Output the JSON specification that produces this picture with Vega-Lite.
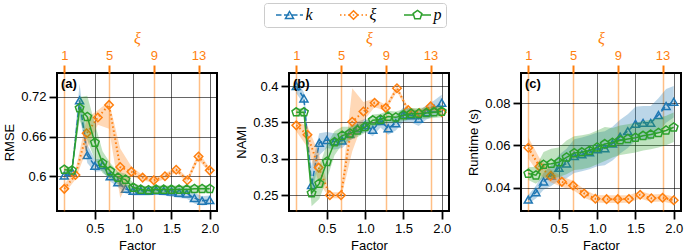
{
  "$schema": "https://vega.github.io/schema/vega-lite/v6.json",
  "padding": {"left": 2, "top": 2, "right": 0, "bottom": 0},
  "spacing": 72,
  "bounds": "flush",
  "datasets": {
    "rmse": [
      {"s":"k","x":0.1,"v":0.601,"lo":0.597,"hi":0.606},
      {"s":"k","x":0.2,"v":0.607,"lo":0.603,"hi":0.612},
      {"s":"k","x":0.3,"v":0.715,"lo":0.695,"hi":0.740},
      {"s":"k","x":0.4,"v":0.632,"lo":0.620,"hi":0.648},
      {"s":"k","x":0.5,"v":0.616,"lo":0.607,"hi":0.626},
      {"s":"k","x":0.6,"v":0.617,"lo":0.608,"hi":0.626},
      {"s":"k","x":0.7,"v":0.600,"lo":0.592,"hi":0.608},
      {"s":"k","x":0.8,"v":0.591,"lo":0.584,"hi":0.598},
      {"s":"k","x":0.9,"v":0.581,"lo":0.574,"hi":0.588},
      {"s":"k","x":1.0,"v":0.578,"lo":0.571,"hi":0.585},
      {"s":"k","x":1.1,"v":0.578,"lo":0.571,"hi":0.585},
      {"s":"k","x":1.2,"v":0.578,"lo":0.571,"hi":0.585},
      {"s":"k","x":1.3,"v":0.579,"lo":0.572,"hi":0.586},
      {"s":"k","x":1.4,"v":0.578,"lo":0.571,"hi":0.585},
      {"s":"k","x":1.5,"v":0.577,"lo":0.569,"hi":0.585},
      {"s":"k","x":1.6,"v":0.575,"lo":0.567,"hi":0.583},
      {"s":"k","x":1.7,"v":0.574,"lo":0.566,"hi":0.582},
      {"s":"k","x":1.8,"v":0.567,"lo":0.559,"hi":0.575},
      {"s":"k","x":1.9,"v":0.563,"lo":0.556,"hi":0.570},
      {"s":"k","x":2.0,"v":0.564,"lo":0.557,"hi":0.571},
      {"s":"p","x":0.1,"v":0.610,"lo":0.605,"hi":0.615},
      {"s":"p","x":0.2,"v":0.609,"lo":0.604,"hi":0.614},
      {"s":"p","x":0.3,"v":0.703,"lo":0.685,"hi":0.720},
      {"s":"p","x":0.4,"v":0.690,"lo":0.655,"hi":0.722},
      {"s":"p","x":0.5,"v":0.651,"lo":0.625,"hi":0.680},
      {"s":"p","x":0.6,"v":0.620,"lo":0.605,"hi":0.638},
      {"s":"p","x":0.7,"v":0.608,"lo":0.597,"hi":0.620},
      {"s":"p","x":0.8,"v":0.598,"lo":0.588,"hi":0.607},
      {"s":"p","x":0.9,"v":0.595,"lo":0.585,"hi":0.604},
      {"s":"p","x":1.0,"v":0.583,"lo":0.576,"hi":0.590},
      {"s":"p","x":1.1,"v":0.580,"lo":0.574,"hi":0.586},
      {"s":"p","x":1.2,"v":0.579,"lo":0.573,"hi":0.585},
      {"s":"p","x":1.3,"v":0.580,"lo":0.574,"hi":0.586},
      {"s":"p","x":1.4,"v":0.580,"lo":0.574,"hi":0.586},
      {"s":"p","x":1.5,"v":0.580,"lo":0.574,"hi":0.586},
      {"s":"p","x":1.6,"v":0.580,"lo":0.574,"hi":0.586},
      {"s":"p","x":1.7,"v":0.580,"lo":0.574,"hi":0.586},
      {"s":"p","x":1.8,"v":0.581,"lo":0.575,"hi":0.587},
      {"s":"p","x":1.9,"v":0.581,"lo":0.575,"hi":0.587},
      {"s":"p","x":2.0,"v":0.581,"lo":0.575,"hi":0.587},
      {"s":"ξ","x":1,"v":0.581,"lo":0.574,"hi":0.588},
      {"s":"ξ","x":2,"v":0.602,"lo":0.595,"hi":0.609},
      {"s":"ξ","x":3,"v":0.665,"lo":0.640,"hi":0.688},
      {"s":"ξ","x":4,"v":0.689,"lo":0.678,"hi":0.700},
      {"s":"ξ","x":5,"v":0.708,"lo":0.672,"hi":0.713},
      {"s":"ξ","x":6,"v":0.614,"lo":0.567,"hi":0.642},
      {"s":"ξ","x":7,"v":0.607,"lo":0.600,"hi":0.615},
      {"s":"ξ","x":8,"v":0.598,"lo":0.594,"hi":0.602},
      {"s":"ξ","x":9,"v":0.594,"lo":0.590,"hi":0.598},
      {"s":"ξ","x":10,"v":0.600,"lo":0.596,"hi":0.604},
      {"s":"ξ","x":11,"v":0.610,"lo":0.606,"hi":0.614},
      {"s":"ξ","x":12,"v":0.594,"lo":0.590,"hi":0.598},
      {"s":"ξ","x":13,"v":0.630,"lo":0.625,"hi":0.636},
      {"s":"ξ","x":14,"v":0.609,"lo":0.605,"hi":0.613}
    ],
    "nami": [
      {"s":"k","x":0.1,"v":0.400,"lo":0.390,"hi":0.410},
      {"s":"k","x":0.2,"v":0.383,"lo":0.375,"hi":0.391},
      {"s":"k","x":0.3,"v":0.264,"lo":0.245,"hi":0.290},
      {"s":"k","x":0.4,"v":0.322,"lo":0.305,"hi":0.335},
      {"s":"k","x":0.5,"v":0.326,"lo":0.315,"hi":0.337},
      {"s":"k","x":0.6,"v":0.324,"lo":0.313,"hi":0.335},
      {"s":"k","x":0.7,"v":0.325,"lo":0.315,"hi":0.335},
      {"s":"k","x":0.8,"v":0.334,"lo":0.325,"hi":0.343},
      {"s":"k","x":0.9,"v":0.342,"lo":0.333,"hi":0.351},
      {"s":"k","x":1.0,"v":0.346,"lo":0.337,"hi":0.355},
      {"s":"k","x":1.1,"v":0.340,"lo":0.331,"hi":0.349},
      {"s":"k","x":1.2,"v":0.352,"lo":0.343,"hi":0.361},
      {"s":"k","x":1.3,"v":0.342,"lo":0.333,"hi":0.351},
      {"s":"k","x":1.4,"v":0.349,"lo":0.339,"hi":0.359},
      {"s":"k","x":1.5,"v":0.361,"lo":0.351,"hi":0.371},
      {"s":"k","x":1.6,"v":0.360,"lo":0.350,"hi":0.370},
      {"s":"k","x":1.7,"v":0.355,"lo":0.345,"hi":0.365},
      {"s":"k","x":1.8,"v":0.364,"lo":0.354,"hi":0.374},
      {"s":"k","x":1.9,"v":0.369,"lo":0.358,"hi":0.380},
      {"s":"k","x":2.0,"v":0.377,"lo":0.366,"hi":0.388},
      {"s":"p","x":0.1,"v":0.364,"lo":0.358,"hi":0.370},
      {"s":"p","x":0.2,"v":0.364,"lo":0.358,"hi":0.370},
      {"s":"p","x":0.3,"v":0.253,"lo":0.235,"hi":0.272},
      {"s":"p","x":0.4,"v":0.266,"lo":0.245,"hi":0.290},
      {"s":"p","x":0.5,"v":0.296,"lo":0.272,"hi":0.320},
      {"s":"p","x":0.6,"v":0.323,"lo":0.305,"hi":0.338},
      {"s":"p","x":0.7,"v":0.332,"lo":0.320,"hi":0.344},
      {"s":"p","x":0.8,"v":0.335,"lo":0.326,"hi":0.344},
      {"s":"p","x":0.9,"v":0.339,"lo":0.330,"hi":0.348},
      {"s":"p","x":1.0,"v":0.344,"lo":0.336,"hi":0.352},
      {"s":"p","x":1.1,"v":0.353,"lo":0.345,"hi":0.361},
      {"s":"p","x":1.2,"v":0.354,"lo":0.346,"hi":0.362},
      {"s":"p","x":1.3,"v":0.358,"lo":0.350,"hi":0.366},
      {"s":"p","x":1.4,"v":0.357,"lo":0.349,"hi":0.365},
      {"s":"p","x":1.5,"v":0.360,"lo":0.352,"hi":0.368},
      {"s":"p","x":1.6,"v":0.362,"lo":0.354,"hi":0.370},
      {"s":"p","x":1.7,"v":0.362,"lo":0.354,"hi":0.370},
      {"s":"p","x":1.8,"v":0.363,"lo":0.355,"hi":0.371},
      {"s":"p","x":1.9,"v":0.364,"lo":0.356,"hi":0.372},
      {"s":"p","x":2.0,"v":0.365,"lo":0.357,"hi":0.373},
      {"s":"ξ","x":1,"v":0.346,"lo":0.338,"hi":0.352},
      {"s":"ξ","x":2,"v":0.333,"lo":0.316,"hi":0.345},
      {"s":"ξ","x":3,"v":0.288,"lo":0.268,"hi":0.308},
      {"s":"ξ","x":4,"v":0.250,"lo":0.246,"hi":0.254},
      {"s":"ξ","x":5,"v":0.250,"lo":0.246,"hi":0.254},
      {"s":"ξ","x":6,"v":0.351,"lo":0.310,"hi":0.397},
      {"s":"ξ","x":7,"v":0.365,"lo":0.352,"hi":0.378},
      {"s":"ξ","x":8,"v":0.377,"lo":0.371,"hi":0.383},
      {"s":"ξ","x":9,"v":0.370,"lo":0.366,"hi":0.374},
      {"s":"ξ","x":10,"v":0.397,"lo":0.393,"hi":0.401},
      {"s":"ξ","x":11,"v":0.367,"lo":0.363,"hi":0.371},
      {"s":"ξ","x":12,"v":0.363,"lo":0.359,"hi":0.367},
      {"s":"ξ","x":13,"v":0.372,"lo":0.368,"hi":0.376},
      {"s":"ξ","x":14,"v":0.364,"lo":0.360,"hi":0.368}
    ],
    "runtime": [
      {"s":"k","x":0.1,"v":0.0343,"lo":0.0323,"hi":0.0363},
      {"s":"k","x":0.2,"v":0.0378,"lo":0.0348,"hi":0.0408},
      {"s":"k","x":0.3,"v":0.0429,"lo":0.0389,"hi":0.0469},
      {"s":"k","x":0.4,"v":0.0457,"lo":0.0407,"hi":0.0507},
      {"s":"k","x":0.5,"v":0.0494,"lo":0.0434,"hi":0.0554},
      {"s":"k","x":0.6,"v":0.0514,"lo":0.0444,"hi":0.0584},
      {"s":"k","x":0.7,"v":0.0549,"lo":0.0469,"hi":0.0629},
      {"s":"k","x":0.8,"v":0.0557,"lo":0.0477,"hi":0.0637},
      {"s":"k","x":0.9,"v":0.0567,"lo":0.0487,"hi":0.0647},
      {"s":"k","x":1.0,"v":0.0581,"lo":0.0501,"hi":0.0661},
      {"s":"k","x":1.1,"v":0.0586,"lo":0.0506,"hi":0.0666},
      {"s":"k","x":1.2,"v":0.0608,"lo":0.0528,"hi":0.0688},
      {"s":"k","x":1.3,"v":0.0641,"lo":0.0561,"hi":0.0721},
      {"s":"k","x":1.4,"v":0.0667,"lo":0.0587,"hi":0.0747},
      {"s":"k","x":1.5,"v":0.0702,"lo":0.0622,"hi":0.0782},
      {"s":"k","x":1.6,"v":0.0706,"lo":0.0626,"hi":0.0786},
      {"s":"k","x":1.7,"v":0.0706,"lo":0.0626,"hi":0.0786},
      {"s":"k","x":1.8,"v":0.0743,"lo":0.0663,"hi":0.0823},
      {"s":"k","x":1.9,"v":0.0786,"lo":0.0706,"hi":0.0866},
      {"s":"k","x":2.0,"v":0.0806,"lo":0.0731,"hi":0.0881},
      {"s":"p","x":0.1,"v":0.0466,"lo":0.0436,"hi":0.0496},
      {"s":"p","x":0.2,"v":0.0458,"lo":0.0418,"hi":0.0498},
      {"s":"p","x":0.3,"v":0.0508,"lo":0.0448,"hi":0.0568},
      {"s":"p","x":0.4,"v":0.0513,"lo":0.0443,"hi":0.0583},
      {"s":"p","x":0.5,"v":0.0520,"lo":0.0450,"hi":0.0590},
      {"s":"p","x":0.6,"v":0.0543,"lo":0.0463,"hi":0.0623},
      {"s":"p","x":0.7,"v":0.0563,"lo":0.0483,"hi":0.0643},
      {"s":"p","x":0.8,"v":0.0567,"lo":0.0487,"hi":0.0647},
      {"s":"p","x":0.9,"v":0.0575,"lo":0.0495,"hi":0.0655},
      {"s":"p","x":1.0,"v":0.0590,"lo":0.0510,"hi":0.0670},
      {"s":"p","x":1.1,"v":0.0606,"lo":0.0526,"hi":0.0686},
      {"s":"p","x":1.2,"v":0.0612,"lo":0.0542,"hi":0.0682},
      {"s":"p","x":1.3,"v":0.0624,"lo":0.0554,"hi":0.0694},
      {"s":"p","x":1.4,"v":0.0630,"lo":0.0560,"hi":0.0700},
      {"s":"p","x":1.5,"v":0.0636,"lo":0.0566,"hi":0.0706},
      {"s":"p","x":1.6,"v":0.0645,"lo":0.0575,"hi":0.0715},
      {"s":"p","x":1.7,"v":0.0651,"lo":0.0581,"hi":0.0721},
      {"s":"p","x":1.8,"v":0.0659,"lo":0.0589,"hi":0.0729},
      {"s":"p","x":1.9,"v":0.0670,"lo":0.0600,"hi":0.0740},
      {"s":"p","x":2.0,"v":0.0685,"lo":0.0615,"hi":0.0755},
      {"s":"ξ","x":1,"v":0.0588,"lo":0.0538,"hi":0.0638},
      {"s":"ξ","x":2,"v":0.0500,"lo":0.0460,"hi":0.0540},
      {"s":"ξ","x":3,"v":0.0455,"lo":0.0425,"hi":0.0485},
      {"s":"ξ","x":4,"v":0.0427,"lo":0.0402,"hi":0.0452},
      {"s":"ξ","x":5,"v":0.0410,"lo":0.0388,"hi":0.0432},
      {"s":"ξ","x":6,"v":0.0372,"lo":0.0352,"hi":0.0392},
      {"s":"ξ","x":7,"v":0.0347,"lo":0.0329,"hi":0.0365},
      {"s":"ξ","x":8,"v":0.0345,"lo":0.0327,"hi":0.0363},
      {"s":"ξ","x":9,"v":0.0345,"lo":0.0327,"hi":0.0363},
      {"s":"ξ","x":10,"v":0.0346,"lo":0.0328,"hi":0.0364},
      {"s":"ξ","x":11,"v":0.0366,"lo":0.0348,"hi":0.0384},
      {"s":"ξ","x":12,"v":0.0349,"lo":0.0331,"hi":0.0367},
      {"s":"ξ","x":13,"v":0.0352,"lo":0.0334,"hi":0.0370},
      {"s":"ξ","x":14,"v":0.0340,"lo":0.0322,"hi":0.0358}
    ]
  },
  "hconcat": [
    {
      "width": 160, "height": 138,
      "title": {"text": "(a)", "anchor": "start", "frame": "group", "offset": 0, "baseline": "top", "dx": 4, "dy": 61, "fontSize": 13, "fontWeight": "bold", "font": "Liberation Sans", "color": "black"},
      "data": {"name": "rmse"},
      "resolve": {"scale": {"x": "independent"}, "axis": {"x": "independent"}},
      "layer": [
        {
          "transform": [{"filter": {"field": "s", "equal": "k"}}],
          "encoding": {"x": {"field": "x", "type": "quantitative", "title": "Factor", "scale": {"domain": [0.005, 2.095], "nice": false, "zero": false}, "axis": {"orient": "bottom", "values": [0.5, 1, 1.5, 2], "format": ".1f", "grid": true}}},
          "layer": [
            {"mark": {"type": "area", "color": "#1f77b4", "opacity": 0.3}, "encoding": {"y": {"field": "lo", "type": "quantitative", "title": "RMSE", "scale": {"domain": [0.5475, 0.7563], "nice": false, "zero": false}, "axis": {"values": [0.6, 0.66, 0.72], "format": ".2~f", "grid": true}}, "y2": {"field": "hi"}}},
            {"mark": {"type": "line", "color": "#1f77b4", "strokeWidth": 1.5, "strokeDash": [5.5, 2.4]}, "encoding": {"y": {"field": "v", "type": "quantitative", "title": "RMSE"}}},
            {"mark": {"type": "point", "shape": "triangle-up", "filled": false, "color": "#1f77b4", "size": 64, "strokeWidth": 1.5, "opacity": 1}, "encoding": {"y": {"field": "v", "type": "quantitative", "title": "RMSE"}}}
          ]
        },
        {
          "transform": [{"filter": {"field": "s", "equal": "ξ"}}],
          "encoding": {"x": {"field": "x", "type": "quantitative", "title": "ξ", "scale": {"domain": [0.35, 14.65], "nice": false, "zero": false}, "axis": {"orient": "top", "values": [1, 5, 9, 13], "format": "d", "grid": true, "gridColor": "#ff7f0e", "gridOpacity": 0.5, "gridWidth": 1.5, "tickColor": "#ff7f0e", "tickWidth": 2, "tickSize": 8, "labelColor": "#ff7f0e", "titleColor": "#ff7f0e", "titleFont": "Liberation Serif", "titleFontStyle": "italic", "titleFontSize": 16, "titlePadding": 3}}},
          "layer": [
            {"mark": {"type": "area", "color": "#ff7f0e", "opacity": 0.3}, "encoding": {"y": {"field": "lo", "type": "quantitative", "title": "RMSE"}, "y2": {"field": "hi"}}},
            {"mark": {"type": "line", "color": "#ff7f0e", "strokeWidth": 2, "strokeDash": [1.5, 2.6]}, "encoding": {"y": {"field": "v", "type": "quantitative", "title": "RMSE"}}},
            {"mark": {"type": "point", "shape": "diamond", "filled": false, "color": "#ff7f0e", "size": 72, "strokeWidth": 1.5, "opacity": 1}, "encoding": {"y": {"field": "v", "type": "quantitative", "title": "RMSE"}}}
          ]
        },
        {
          "transform": [{"filter": {"field": "s", "equal": "p"}}],
          "encoding": {"x": {"field": "x", "type": "quantitative", "scale": {"domain": [0.005, 2.095], "nice": false, "zero": false}, "axis": null}},
          "layer": [
            {"mark": {"type": "area", "color": "#2ca02c", "opacity": 0.3}, "encoding": {"y": {"field": "lo", "type": "quantitative", "title": "RMSE"}, "y2": {"field": "hi"}}},
            {"mark": {"type": "line", "color": "#2ca02c", "strokeWidth": 1.5}, "encoding": {"y": {"field": "v", "type": "quantitative", "title": "RMSE"}}},
            {"mark": {"type": "point", "shape": "M0,-1L0.951,-0.309L0.588,0.809L-0.588,0.809L-0.951,-0.309Z", "filled": false, "color": "#2ca02c", "size": 80, "strokeWidth": 1.5, "opacity": 1}, "encoding": {"y": {"field": "v", "type": "quantitative", "title": "RMSE"}}}
          ]
        }
      ]
    },
    {
      "width": 160, "height": 138,
      "title": {"text": "(b)", "anchor": "start", "frame": "group", "offset": 0, "baseline": "top", "dx": 4, "dy": 61, "fontSize": 13, "fontWeight": "bold", "font": "Liberation Sans", "color": "black"},
      "data": {"name": "nami"},
      "resolve": {"scale": {"x": "independent"}, "axis": {"x": "independent"}},
      "layer": [
        {
          "transform": [{"filter": {"field": "s", "equal": "k"}}],
          "encoding": {"x": {"field": "x", "type": "quantitative", "title": "Factor", "scale": {"domain": [0.005, 2.095], "nice": false, "zero": false}, "axis": {"orient": "bottom", "values": [0.5, 1, 1.5, 2], "format": ".1f", "grid": true}}},
          "layer": [
            {"mark": {"type": "area", "color": "#1f77b4", "opacity": 0.3}, "encoding": {"y": {"field": "lo", "type": "quantitative", "title": "NAMI", "scale": {"domain": [0.2284, 0.4179], "nice": false, "zero": false}, "axis": {"values": [0.25, 0.3, 0.35, 0.4], "format": ".2~f", "grid": true}}, "y2": {"field": "hi"}}},
            {"mark": {"type": "line", "color": "#1f77b4", "strokeWidth": 1.5, "strokeDash": [5.5, 2.4]}, "encoding": {"y": {"field": "v", "type": "quantitative", "title": "NAMI"}}},
            {"mark": {"type": "point", "shape": "triangle-up", "filled": false, "color": "#1f77b4", "size": 64, "strokeWidth": 1.5, "opacity": 1}, "encoding": {"y": {"field": "v", "type": "quantitative", "title": "NAMI"}}}
          ]
        },
        {
          "transform": [{"filter": {"field": "s", "equal": "ξ"}}],
          "encoding": {"x": {"field": "x", "type": "quantitative", "title": "ξ", "scale": {"domain": [0.35, 14.65], "nice": false, "zero": false}, "axis": {"orient": "top", "values": [1, 5, 9, 13], "format": "d", "grid": true, "gridColor": "#ff7f0e", "gridOpacity": 0.5, "gridWidth": 1.5, "tickColor": "#ff7f0e", "tickWidth": 2, "tickSize": 8, "labelColor": "#ff7f0e", "titleColor": "#ff7f0e", "titleFont": "Liberation Serif", "titleFontStyle": "italic", "titleFontSize": 16, "titlePadding": 3}}},
          "layer": [
            {"mark": {"type": "area", "color": "#ff7f0e", "opacity": 0.3}, "encoding": {"y": {"field": "lo", "type": "quantitative", "title": "NAMI"}, "y2": {"field": "hi"}}},
            {"mark": {"type": "line", "color": "#ff7f0e", "strokeWidth": 2, "strokeDash": [1.5, 2.6]}, "encoding": {"y": {"field": "v", "type": "quantitative", "title": "NAMI"}}},
            {"mark": {"type": "point", "shape": "diamond", "filled": false, "color": "#ff7f0e", "size": 72, "strokeWidth": 1.5, "opacity": 1}, "encoding": {"y": {"field": "v", "type": "quantitative", "title": "NAMI"}}}
          ]
        },
        {
          "transform": [{"filter": {"field": "s", "equal": "p"}}],
          "encoding": {"x": {"field": "x", "type": "quantitative", "scale": {"domain": [0.005, 2.095], "nice": false, "zero": false}, "axis": null}},
          "layer": [
            {"mark": {"type": "area", "color": "#2ca02c", "opacity": 0.3}, "encoding": {"y": {"field": "lo", "type": "quantitative", "title": "NAMI"}, "y2": {"field": "hi"}}},
            {"mark": {"type": "line", "color": "#2ca02c", "strokeWidth": 1.5}, "encoding": {"y": {"field": "v", "type": "quantitative", "title": "NAMI"}}},
            {"mark": {"type": "point", "shape": "M0,-1L0.951,-0.309L0.588,0.809L-0.588,0.809L-0.951,-0.309Z", "filled": false, "color": "#2ca02c", "size": 80, "strokeWidth": 1.5, "opacity": 1}, "encoding": {"y": {"field": "v", "type": "quantitative", "title": "NAMI"}}}
          ]
        },
        {
          "transform": [{"filter": {"field": "s", "equal": "k"}}],
          "mark": {"type": "point", "filled": false, "opacity": 0},
          "encoding": {
            "x": {"field": "x", "type": "quantitative", "scale": {"domain": [0.005, 2.095], "nice": false, "zero": false}, "axis": null},
            "y": {"field": "v", "type": "quantitative", "title": "NAMI"},
            "color": {"field": "s", "type": "nominal", "scale": {"domain": ["k", "ξ", "p"], "range": ["#1f77b4", "#ff7f0e", "#2ca02c"]},
              "legend": {"orient": "none", "legendX": 207, "legendY": -70, "direction": "horizontal", "title": null, "symbolSize": 4, "symbolStrokeWidth": 1.5, "symbolOffset": 13.5, "labelOffset": 8, "columnPadding": 19, "labelFont": "Liberation Serif", "labelFontStyle": "italic", "labelFontSize": 16, "labelColor": "black", "strokeColor": "#cccccc", "fillColor": "white", "cornerRadius": 3, "padding": 4, "symbolOpacity": 1, "encode": {"symbols": {"update": {"opacity": {"value": 1}}}}}},
            "shape": {"field": "s", "type": "nominal", "scale": {"domain": ["k", "ξ", "p"], "range": [
              "M-13.5,0H-8M-5.5,0H0M2.4,0H8M10.4,0H13.5M0,-3.5L4,3.5L-4,3.5Z",
              "M-13.5,0H-12M-9.5,0H-8M-5.5,0H-4.3M-0.75,0H0.75M4.3,0H5.5M8,0H9.5M12,0H13.5M-4.3,0L0,-4.3L4.3,0L0,4.3Z",
              "M-13.5,0H-4.3M4.3,0H13.5M0,-4.6L4.37,-1.42L2.7,3.72L-2.7,3.72L-4.37,-1.42Z"
            ]},
              "legend": {"orient": "none", "legendX": 207, "legendY": -70, "direction": "horizontal", "title": null, "symbolSize": 4, "symbolStrokeWidth": 1.5, "symbolOffset": 13.5, "labelOffset": 8, "columnPadding": 19, "labelFont": "Liberation Serif", "labelFontStyle": "italic", "labelFontSize": 16, "labelColor": "black", "strokeColor": "#cccccc", "fillColor": "white", "cornerRadius": 3, "padding": 4, "symbolOpacity": 1, "encode": {"symbols": {"update": {"opacity": {"value": 1}}}}}}
          }
        }
      ]
    },
    {
      "width": 160, "height": 138,
      "title": {"text": "(c)", "anchor": "start", "frame": "group", "offset": 0, "baseline": "top", "dx": 4, "dy": 61, "fontSize": 13, "fontWeight": "bold", "font": "Liberation Sans", "color": "black"},
      "data": {"name": "runtime"},
      "resolve": {"scale": {"x": "independent"}, "axis": {"x": "independent"}},
      "layer": [
        {
          "transform": [{"filter": {"field": "s", "equal": "k"}}],
          "encoding": {"x": {"field": "x", "type": "quantitative", "title": "Factor", "scale": {"domain": [0.005, 2.095], "nice": false, "zero": false}, "axis": {"orient": "bottom", "values": [0.5, 1, 1.5, 2], "format": ".1f", "grid": true}}},
          "layer": [
            {"mark": {"type": "area", "color": "#1f77b4", "opacity": 0.3}, "encoding": {"y": {"field": "lo", "type": "quantitative", "title": "Runtime (s)", "scale": {"domain": [0.0289, 0.0942], "nice": false, "zero": false}, "axis": {"values": [0.04, 0.06, 0.08], "format": ".2~f", "grid": true}}, "y2": {"field": "hi"}}},
            {"mark": {"type": "line", "color": "#1f77b4", "strokeWidth": 1.5, "strokeDash": [5.5, 2.4]}, "encoding": {"y": {"field": "v", "type": "quantitative", "title": "Runtime (s)"}}},
            {"mark": {"type": "point", "shape": "triangle-up", "filled": false, "color": "#1f77b4", "size": 64, "strokeWidth": 1.5, "opacity": 1}, "encoding": {"y": {"field": "v", "type": "quantitative", "title": "Runtime (s)"}}}
          ]
        },
        {
          "transform": [{"filter": {"field": "s", "equal": "ξ"}}],
          "encoding": {"x": {"field": "x", "type": "quantitative", "title": "ξ", "scale": {"domain": [0.35, 14.65], "nice": false, "zero": false}, "axis": {"orient": "top", "values": [1, 5, 9, 13], "format": "d", "grid": true, "gridColor": "#ff7f0e", "gridOpacity": 0.5, "gridWidth": 1.5, "tickColor": "#ff7f0e", "tickWidth": 2, "tickSize": 8, "labelColor": "#ff7f0e", "titleColor": "#ff7f0e", "titleFont": "Liberation Serif", "titleFontStyle": "italic", "titleFontSize": 16, "titlePadding": 3}}},
          "layer": [
            {"mark": {"type": "area", "color": "#ff7f0e", "opacity": 0.3}, "encoding": {"y": {"field": "lo", "type": "quantitative", "title": "Runtime (s)"}, "y2": {"field": "hi"}}},
            {"mark": {"type": "line", "color": "#ff7f0e", "strokeWidth": 2, "strokeDash": [1.5, 2.6]}, "encoding": {"y": {"field": "v", "type": "quantitative", "title": "Runtime (s)"}}},
            {"mark": {"type": "point", "shape": "diamond", "filled": false, "color": "#ff7f0e", "size": 72, "strokeWidth": 1.5, "opacity": 1}, "encoding": {"y": {"field": "v", "type": "quantitative", "title": "Runtime (s)"}}}
          ]
        },
        {
          "transform": [{"filter": {"field": "s", "equal": "p"}}],
          "encoding": {"x": {"field": "x", "type": "quantitative", "scale": {"domain": [0.005, 2.095], "nice": false, "zero": false}, "axis": null}},
          "layer": [
            {"mark": {"type": "area", "color": "#2ca02c", "opacity": 0.3}, "encoding": {"y": {"field": "lo", "type": "quantitative", "title": "Runtime (s)"}, "y2": {"field": "hi"}}},
            {"mark": {"type": "line", "color": "#2ca02c", "strokeWidth": 1.5}, "encoding": {"y": {"field": "v", "type": "quantitative", "title": "Runtime (s)"}}},
            {"mark": {"type": "point", "shape": "M0,-1L0.951,-0.309L0.588,0.809L-0.588,0.809L-0.951,-0.309Z", "filled": false, "color": "#2ca02c", "size": 80, "strokeWidth": 1.5, "opacity": 1}, "encoding": {"y": {"field": "v", "type": "quantitative", "title": "Runtime (s)"}}}
          ]
        }
      ]
    }
  ],
  "resolve": {"scale": {"color": "shared", "shape": "shared"}, "legend": {"color": "shared", "shape": "shared"}},
  "config": {
    "font": "Liberation Sans",
    "view": {"stroke": "black", "strokeWidth": 2},
    "axis": {
      "domain": false,
      "labelFont": "Liberation Sans", "titleFont": "Liberation Sans",
      "labelFontSize": 13, "titleFontSize": 13, "titleFontWeight": "normal",
      "labelColor": "black", "titleColor": "black",
      "tickColor": "black", "tickWidth": 1.8, "tickSize": 8,
      "gridColor": "black", "gridOpacity": 0.6, "gridWidth": 1,
      "labelPadding": 3, "titlePadding": 4,
      "labelFlush": false
    }
  }
}
